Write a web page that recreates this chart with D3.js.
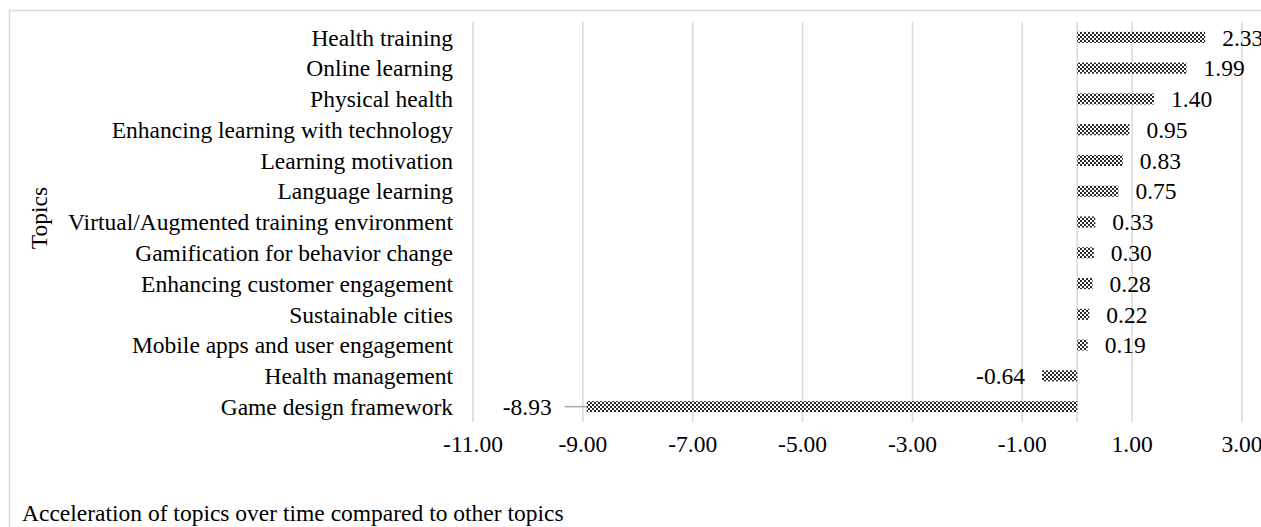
<!DOCTYPE html>
<html>
<head>
<meta charset="utf-8">
<script src="https://cdn.jsdelivr.net/npm/d3@7"></script>
<style>
  html, body { margin: 0; padding: 0; background: #fff; }
  svg { display: block; font-family: "Liberation Serif", "Times New Roman", serif; }
</style>
</head>
<body>
<svg id="chart" width="1261" height="527"></svg>
<script>
// Topic labels, top to bottom
const topics = [
  "Health training",
  "Online learning",
  "Physical health",
  "Enhancing learning with technology",
  "Learning motivation",
  "Language learning",
  "Virtual/Augmented training environment",
  "Gamification for behavior change",
  "Enhancing customer engagement",
  "Sustainable cities",
  "Mobile apps and user engagement",
  "Health management",
  "Game design framework"
];
// Acceleration value per topic
const acceleration = [2.33, 1.99, 1.40, 0.95, 0.83, 0.75, 0.33, 0.30, 0.28, 0.22, 0.19, -0.64, -8.93];
// X axis ticks
const xTicks = [-11, -9, -7, -5, -3, -1, 1, 3];

const axisTitle = "Topics";
const footTitle = "Acceleration of topics over time compared to other topics";

const svg = d3.select("#chart");
const fontSize = 23.5;
// two decimals, plain hyphen for negatives
const fmt = v => d3.format(".2f")(v).replace("\u2212", "-");

// Outer frame (runs off the right and bottom of the page)
svg.append("rect")
  .attr("x", 9.5).attr("y", 10.5)
  .attr("width", 1300).attr("height", 600)
  .attr("fill", "none").attr("stroke", "#d9d9d9").attr("stroke-width", 1.5);

// Checkered fill for bars
const defs = svg.append("defs");
const pat = defs.append("pattern")
  .attr("id", "checker").attr("patternUnits", "userSpaceOnUse")
  .attr("width", 4).attr("height", 4);
pat.append("rect").attr("width", 4).attr("height", 4).attr("fill", "#ffffff");
pat.append("rect").attr("x", 0).attr("y", 0).attr("width", 2).attr("height", 2).attr("fill", "#2a2a2a");
pat.append("rect").attr("x", 2).attr("y", 2).attr("width", 2).attr("height", 2).attr("fill", "#2a2a2a");

const x = d3.scaleLinear().domain([-11, 3]).range([473, 1242]);
const y = d3.scaleBand().domain(topics).range([22, 422]).paddingInner(0.64).paddingOuter(0.32);

// Vertical gridlines
svg.append("g").selectAll("line").data(xTicks).join("line")
  .attr("x1", d => x(d)).attr("x2", d => x(d))
  .attr("y1", 22).attr("y2", 422)
  .attr("stroke", "#d9d9d9").attr("stroke-width", 1.5);

// Zero baseline
svg.append("line")
  .attr("x1", x(0)).attr("x2", x(0)).attr("y1", 22).attr("y2", 422)
  .attr("stroke", "#d9d9d9").attr("stroke-width", 1.5);

// X tick labels
svg.append("g").selectAll("text").data(xTicks).join("text")
  .attr("x", d => x(d)).attr("y", 452)
  .attr("text-anchor", "middle")
  .attr("font-size", fontSize).attr("fill", "#000")
  .text(fmt);

const rows = topics.map((t, i) => ({ topic: t, value: acceleration[i] }));

// Bars
svg.append("g").selectAll("rect").data(rows).join("rect")
  .attr("x", d => x(Math.min(0, d.value)))
  .attr("width", d => Math.abs(x(d.value) - x(0)))
  .attr("y", d => y(d.topic))
  .attr("height", y.bandwidth())
  .attr("fill", "url(#checker)");

// Category labels
svg.append("g").selectAll("text").data(rows).join("text")
  .attr("x", 453)
  .attr("y", d => y(d.topic) + y.bandwidth() / 2)
  .attr("dy", "0.35em")
  .attr("text-anchor", "end")
  .attr("font-size", fontSize).attr("fill", "#000")
  .text(d => d.topic);

// Value labels; the longest negative bar gets its label pushed out with a leader line
const minVal = d3.min(acceleration);
const gap = 17, leaderLen = 22;
const valueG = svg.append("g");
rows.forEach(d => {
  const cy = y(d.topic) + y.bandwidth() / 2;
  let tx, anchor;
  if (d.value >= 0) {
    tx = x(d.value) + gap; anchor = "start";
  } else if (d.value === minVal) {
    const lineEnd = x(d.value);
    const lineStart = lineEnd - leaderLen;
    valueG.append("line")
      .attr("x1", lineStart).attr("x2", lineEnd).attr("y1", cy).attr("y2", cy)
      .attr("stroke", "#a6a6a6").attr("stroke-width", 1.5);
    tx = lineStart - 13; anchor = "end";
  } else {
    tx = x(d.value) - gap; anchor = "end";
  }
  valueG.append("text")
    .attr("x", tx).attr("y", cy).attr("dy", "0.35em")
    .attr("text-anchor", anchor)
    .attr("font-size", fontSize).attr("fill", "#000")
    .text(fmt(d.value));
});

// Y axis title
svg.append("text")
  .attr("transform", "translate(47,218) rotate(-90)")
  .attr("text-anchor", "middle")
  .attr("font-size", fontSize).attr("fill", "#000")
  .text(axisTitle);

// Caption below the chart
svg.append("text")
  .attr("x", 22).attr("y", 521)
  .attr("font-size", fontSize).attr("fill", "#000")
  .text(footTitle);
</script>
</body>
</html>
